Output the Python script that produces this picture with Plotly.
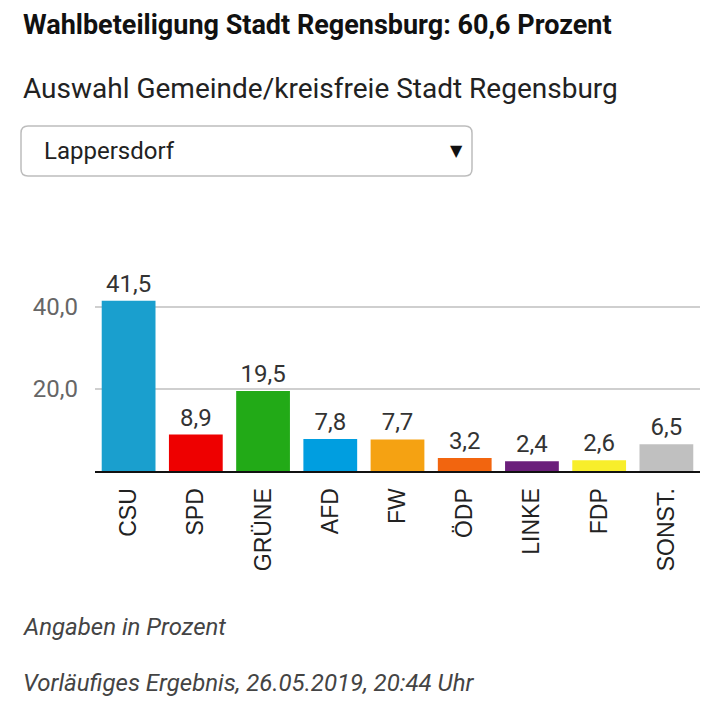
import plotly.graph_objects as go

# Europawahl 2019, Lappersdorf
parteien = ["CSU", "SPD", "GRÜNE", "AFD", "FW", "ÖDP", "LINKE", "FDP", "SONST."]
prozent = [41.5, 8.9, 19.5, 7.8, 7.7, 3.2, 2.4, 2.6, 6.5]
y_ticks = [20, 40]

farben = ["#1a9fce", "#ee0000", "#22aa17", "#009ee0", "#f5a212",
          "#f2650f", "#6b1f7b", "#f8ee2b", "#c0c0c0"]

W = 720
H = 720
OFF = 8  # page body margin


def px_x(p):
    return (p - OFF) / W


def px_y(p):
    return (H - (p - OFF)) / H


def rounded_box(x0, y0, x1, y1, r):
    # screen pixel coords -> paper path with rounded corners
    X0, X1 = px_x(x0), px_x(x1)
    Y0, Y1 = px_y(y1), px_y(y0)
    R = r / W
    return (f"M {X0+R},{Y0} L {X1-R},{Y0} Q {X1},{Y0} {X1},{Y0+R} "
            f"L {X1},{Y1-R} Q {X1},{Y1} {X1-R},{Y1} L {X0+R},{Y1} "
            f"Q {X0},{Y1} {X0},{Y1-R} L {X0},{Y0+R} Q {X0},{Y0} {X0+R},{Y0} Z")


fig = go.Figure()
fig.add_trace(go.Bar(
    x=parteien,
    y=prozent,
    marker=dict(color=farben, line=dict(width=0)),
    texttemplate="%{y:.1f}",
    textposition="outside",
    textfont=dict(family="Roboto", size=24, color="#333333"),
    cliponaxis=False,
    hoverinfo="skip",
))

fig.update_layout(
    width=W, height=H,
    margin=dict(l=0, r=0, t=0, b=0),
    paper_bgcolor="white",
    plot_bgcolor="white",
    separators=",.",
    showlegend=False,
    bargap=0.2,
    font=dict(family="Roboto", color="#222222"),
    xaxis=dict(
        domain=[px_x(95), px_x(700)],
        range=[-0.5, 8.5],
        tickangle=-90,
        tickfont=dict(family="Liberation Sans", size=23, color="#222222"),
        showline=True, linecolor="#111111", linewidth=2,
        showgrid=False, ticks="", ticklabelstandoff=6,
    ),
    yaxis=dict(
        domain=[px_y(471), px_y(286.5)],
        range=[0, 45],
        tickvals=y_ticks,
        tickformat=".1f",
        tickfont=dict(family="Roboto", size=24, color="#666666"),
        showgrid=True, gridcolor="#cfcfcf", gridwidth=2,
        zeroline=False, ticks="", ticklabelstandoff=16,
    ),
)

fig.add_shape(type="path", xref="paper", yref="paper",
              path=rounded_box(21, 126, 472, 176, 7),
              line=dict(color="#bdbdbd", width=1.5), fillcolor="white")

texte = [
    ("<b>Wahlbeteiligung Stadt Regensburg: 60,6 Prozent</b>", 21, 25, 27, "#111111"),
    ("Auswahl Gemeinde/kreisfreie Stadt Regensburg", 21, 88, 28, "#222222"),
    ("Lappersdorf", 42, 151, 24, "#222222"),
    ("<i>Angaben in Prozent</i>", 21, 627, 24, "#444444"),
    ("<i>Vorläufiges Ergebnis, 26.05.2019, 20:44 Uhr</i>", 21, 683, 24, "#444444"),
]
for t, x, y, s, c in texte:
    fig.add_annotation(text=t, xref="paper", yref="paper",
                       x=px_x(x), y=px_y(y), xanchor="left", yanchor="middle",
                       showarrow=False, font=dict(family="Roboto", size=s, color=c))

fig.add_annotation(text="▼", xref="paper", yref="paper",
                   x=px_x(456), y=px_y(151), xanchor="center", yanchor="middle",
                   showarrow=False, font=dict(family="DejaVu Sans", size=16, color="#111111"))

fig.write_html("out.html")
